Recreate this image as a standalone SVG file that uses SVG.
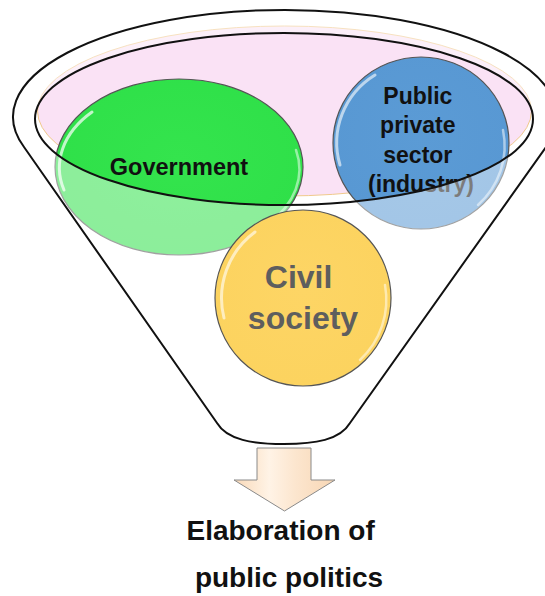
<svg xmlns="http://www.w3.org/2000/svg" width="545" height="596" viewBox="0 0 545 596">
  <defs>
    <style>
      .lbl { font-family: "Liberation Sans", Arial, sans-serif; font-weight: bold; text-anchor: middle; }
      .outline { fill: none; stroke: #111; stroke-width: 2; }
      .node { stroke: #555; stroke-width: 1.2; }
      .gloss { fill: none; stroke: #fff; stroke-linecap: round; }
    </style>
    <linearGradient id="arrowGrad" x1="0" y1="0" x2="1" y2="0">
      <stop offset="0" stop-color="#F9D9B8"/>
      <stop offset="0.35" stop-color="#FFF3E6"/>
      <stop offset="0.6" stop-color="#FCE6CF"/>
      <stop offset="1" stop-color="#F7D6B4"/>
    </linearGradient>
    <radialGradient id="greenGrad" cx="0.5" cy="0.45" r="0.6">
      <stop offset="0" stop-color="#34E44D"/>
      <stop offset="0.9" stop-color="#2FE049"/>
      <stop offset="1" stop-color="#45E35C"/>
    </radialGradient>
    <radialGradient id="blueGrad" cx="0.5" cy="0.45" r="0.6">
      <stop offset="0" stop-color="#5B9BD5"/>
      <stop offset="0.9" stop-color="#5898D3"/>
      <stop offset="1" stop-color="#75ABDD"/>
    </radialGradient>
    <radialGradient id="yellowGrad" cx="0.5" cy="0.45" r="0.6">
      <stop offset="0" stop-color="#FDD565"/>
      <stop offset="0.9" stop-color="#FCD35F"/>
      <stop offset="1" stop-color="#FDDE80"/>
    </radialGradient>
  </defs>

  <!-- funnel body background -->
  <g id="funnel">
    <path d="M 24,147 A 272 107 0 1 1 546,147 L 350,423 C 340,440 315,444 284,444 C 253,444 227,440 217,423 Z" fill="#FFFFFF"/>
    <ellipse cx="284.5" cy="111" rx="247" ry="85" fill="#FAE2F5" stroke="#F0C98C" stroke-width="1"/>
  </g>

  <g id="government">
    <ellipse class="node" cx="179" cy="167" rx="124" ry="88" fill="url(#greenGrad)"/>
    <path class="gloss" d="M 64,190 A 116 80 0 0 1 92,112" stroke-width="3" opacity="0.7"/>
    <path class="gloss" d="M 296,150 A 116 80 0 0 1 268,224" stroke-width="2.5" opacity="0.5"/>
    <text class="lbl" x="179" y="175" font-size="23.5" fill="#111">Government</text>
  </g>

  <g id="public-private-sector">
    <ellipse class="node" cx="421" cy="143" rx="88" ry="86" fill="url(#blueGrad)"/>
    <path class="gloss" d="M 340,165 A 82 80 0 0 1 375,75" stroke-width="3" opacity="0.6"/>
    <path class="gloss" d="M 503,130 A 82 80 0 0 1 478,205" stroke-width="2.5" opacity="0.5"/>
    <text class="lbl" font-size="23" fill="#111">
      <tspan x="421" y="104">Public</tspan>
      <tspan x="421" y="133">private</tspan>
      <tspan x="421" y="163">sector</tspan>
      <tspan x="421" y="192">(industry)</tspan>
    </text>
  </g>

  <!-- front of funnel (semi-transparent) and outlines -->
  <g id="funnel-front">
    <path fill-rule="evenodd" fill="#FFFFFF" fill-opacity="0.45"
      d="M 24,147 A 272 107 0 1 1 546,147 L 350,423 C 340,440 315,444 284,444 C 253,444 227,440 217,423 Z
         M 35,119 A 249 86 0 1 0 533,119 A 249 86 0 1 0 35,119 Z"/>
    <path class="outline" d="M 24,147 A 272 107 0 1 1 546,147 L 350,423 C 340,440 315,444 284,444 C 253,444 227,440 217,423 Z"/>
    <ellipse class="outline" cx="284" cy="119" rx="249" ry="86"/>
  </g>

  <g id="civil-society">
    <circle class="node" cx="303" cy="298" r="88" fill="url(#yellowGrad)"/>
    <path class="gloss" d="M 224,318 A 82 82 0 0 1 255,232" stroke-width="3" opacity="0.6"/>
    <path class="gloss" d="M 385,285 A 82 82 0 0 1 360,360" stroke-width="2.5" opacity="0.5"/>
    <text class="lbl" font-size="32" fill="#5E5E5E">
      <tspan x="303" y="288">Civil</tspan>
      <tspan x="303" y="329">society</tspan>
    </text>
  </g>

  <g id="connectors">
    <path d="M 257,448 L 311,448 L 311,480 L 335,480 L 284.5,511 L 234,480 L 257,480 Z" fill="url(#arrowGrad)" stroke="#8A8A8A" stroke-width="1"/>
  </g>

  <g id="result">
    <text class="lbl" font-size="28" fill="#111">
      <tspan x="284.5" y="540">Elaboration of</tspan>
      <tspan x="289" y="587">public politics</tspan>
    </text>
  </g>
</svg>
